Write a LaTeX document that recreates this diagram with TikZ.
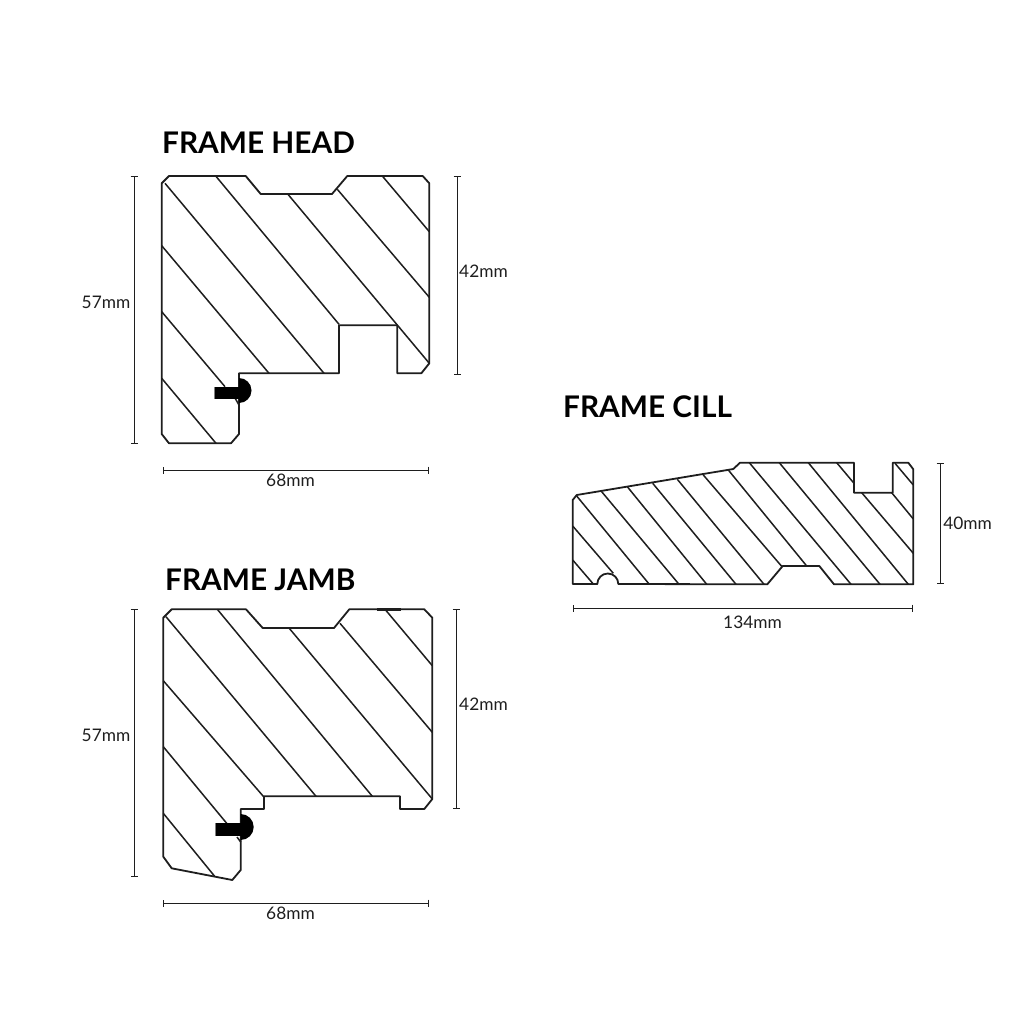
\documentclass[tikz,border=0pt]{standalone}
\usepackage{fontspec}
\setmainfont{Lato}
\usetikzlibrary{arrows.meta}
\definecolor{ink}{HTML}{1E1E1E}
\tikzset{
  outline/.style={draw=ink,line width=1.8pt,line join=round,fill=white},
  hatch/.style={draw=ink,line width=1.5pt},
  dimline/.style={draw=ink,line width=1pt,{Bar[width=7pt,line width=1pt]}-{Bar[width=7pt,line width=1pt]}},
  dimlabel/.style={font=\fontsize{17.3}{19}\selectfont,text=ink,inner sep=0pt,anchor=center},
  title/.style={font=\fontsize{29.8}{34}\bfseries\selectfont,text=black,inner sep=0pt,anchor=base west},
  plug/.style={fill=black,draw=none}
}
\begin{document}
\begin{tikzpicture}[x=1pt,y=-1pt]
\useasboundingbox (0,0) rectangle (1024,1024);
\fill[white] (0,0) rectangle (1024,1024);
% titles
\node[title] (t1) at (162,153.5) {FRAME HEAD};
\node[title] (t2) at (165,590.5) {FRAME JAMB};
\node[title] (t3) at (563,417) {FRAME CILL};
% ---------- head
\draw[outline] (161.7,183.3)--(169,176)--(245.7,176)--(260.7,194)--(332,194)--(347.3,176)--(422.7,176)--(429.3,183.3)--(429.3,363.3)--(421.3,373.3)--(397.3,373.3)--(397.3,325.3)--(339,325.3)--(339,373.3)--(239,373.3)--(239,434)--(231,443.3)--(169,443.3)--(161.7,434)--cycle;
\foreach \a/\b/\c/\d in {165/183.3/324/373.3, 215.7/176/339/324.3, 287.7/194/429.3/363.3, 337.3/189.3/429.3/297.3, 382.3/176/429.3/231.7, 161.7/245.7/269/373.3, 161.7/311.7/225/386.7, 161.7/378.3/216/443.3, 235/398/239/405}
  \draw[hatch] (\a,\b)--(\c,\d);
\fill[gray] (214,387) rectangle (216,399);
\fill[plug] (215,387) rectangle (239,399);
\fill[plug] (239,378) arc[start angle=-90,end angle=90,radius=12.5];
% ---------- jamb
\draw[outline] (163.3,617.7)--(171.7,609.3)--(246,609.3)--(262.7,628)--(334,628)--(349.3,609.3)--(424.3,609.3)--(432.3,617.7)--(432.3,799)--(424.3,809)--(400,809)--(400,796.3)--(264,796.3)--(264,809)--(240.7,809)--(240.7,870)--(232.3,880)--(171.7,868.3)--(163.3,856.7)--cycle;
\foreach \a/\b/\c/\d in {166/616.7/316/796.3, 217.3/609.3/372.3/796.3, 289/628/432.3/799, 340/623.3/432.3/732.3, 385/609.3/432.3/665.7, 163.3/680.7/263.3/796.3, 163.3/746.7/226.7/823.3, 163.3/813.3/215/876.7, 237/837/240.7/842}
  \draw[hatch] (\a,\b)--(\c,\d);
\fill[gray] (215,822.7) rectangle (217,835.7);
\fill[plug] (216,822.7) rectangle (240.7,835.7);
\fill[plug] (240.7,814) arc[start angle=-90,end angle=90,radius=13];
\draw[draw=ink,line width=2.4pt] (377,609.3)--(401,609.3);
% ---------- cill
\draw[outline] (572.7,584)--(597.3,584) arc[start angle=180,end angle=360,radius=10.5] --(767.3,584.3)--(782.7,566)--(819.3,566)--(834,584.3)--(913.3,584.3)--(913.3,469.3)--(908.3,462.7)--(892.7,462.7)--(892.7,492.7)--(854,492.7)--(854,462.7)--(740,462.7)--(733.3,469)--(576.7,495)--(572.7,500)--cycle;
\foreach \a/\b/\c/\d in {576.7/496/649.3/584.3, 601.7/491.7/679/584.3, 627.3/486.7/706.7/584.3, 652.7/483.3/736/584.3, 677.3/479.3/764/584.3, 703.3/475/782/566.7, 728.3/470/806.7/566, 749.3/462.7/851/584.3, 779.3/462.7/880/584.3, 808.3/462.7/908.3/584.3, 836.7/462.7/854/483.3, 861.7/492.7/913.3/553.3, 891.7/492.7/913.3/519, 895/463.3/913.3/485, 572.7/526/613.3/573.3, 572.7/560/592.7/583.3}
  \draw[hatch] (\a,\b)--(\c,\d);
% ---------- dimensions
\coordinate (a1) at (134,176); \coordinate (a2) at (134,444);
\coordinate (b1) at (457,176); \coordinate (b2) at (457,375);
\coordinate (c1) at (163,470); \coordinate (c2) at (429,470);
\coordinate (d1) at (134,609); \coordinate (d2) at (134,877);
\coordinate (e1) at (456,609); \coordinate (e2) at (456,809);
\coordinate (f1) at (163,903); \coordinate (f2) at (429,903);
\coordinate (g1) at (940,463); \coordinate (g2) at (940,584);
\coordinate (h1) at (573,608); \coordinate (h2) at (913,608);
\foreach \p/\q in {a1/a2,b1/b2,c1/c2,d1/d2,e1/e2,f1/f2,g1/g2,h1/h2}
  \draw[dimline] (\p)--(\q);
\node[dimlabel] (la) at (106,302.5) {57mm};
\node[dimlabel] (lb) at (483.5,271.5) {42mm};
\node[dimlabel] (lc) at (290.5,480) {68mm};
\node[dimlabel] (ld) at (106,735.5) {57mm};
\node[dimlabel] (le) at (483.5,704.5) {42mm};
\node[dimlabel] (lf) at (290.5,913.5) {68mm};
\node[dimlabel] (lg) at (967.5,523.5) {40mm};
\node[dimlabel] (lh) at (752.5,622.5) {134mm};
\end{tikzpicture}
\end{document}
